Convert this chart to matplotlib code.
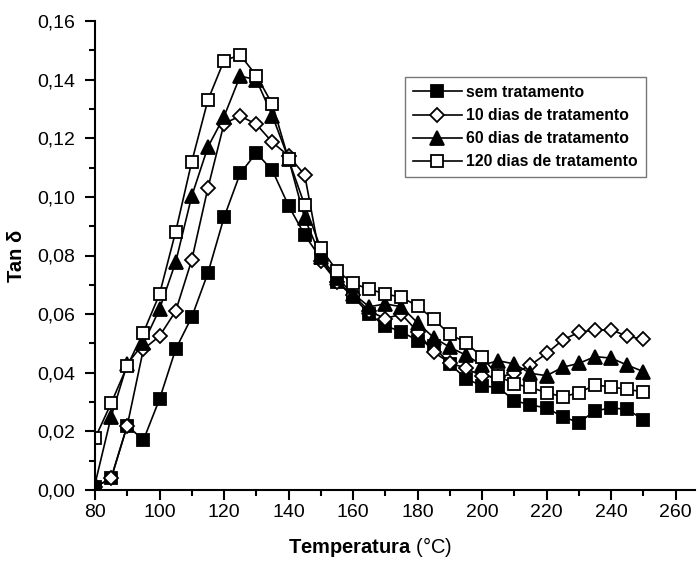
import matplotlib.pyplot as plt
from matplotlib.ticker import MultipleLocator, FuncFormatter

plt.rcParams["font.family"] = ["Liberation Sans", "DejaVu Sans"]
plt.rcParams["mathtext.fontset"] = "custom"
plt.rcParams["mathtext.bf"] = "Liberation Sans:bold"
plt.rcParams["mathtext.rm"] = "Liberation Sans"

temperatura = [80, 85, 90, 95, 100, 105, 110, 115, 120, 125,
               130, 135, 140, 145, 150, 155, 160, 165, 170, 175,
               180, 185, 190, 195, 200, 205, 210, 215, 220, 225,
               230, 235, 240, 245, 250]

sem_tratamento = [0.001, 0.004, 0.022, 0.017, 0.031, 0.048, 0.059, 0.074, 0.093, 0.108,
                  0.115, 0.109, 0.097, 0.087, 0.079, 0.071, 0.066, 0.060, 0.056, 0.054,
                  0.051, 0.049, 0.043, 0.038, 0.0355, 0.035, 0.0305, 0.029, 0.028, 0.025,
                  0.023, 0.027, 0.028, 0.0275, 0.024]

dias_10 = [0.001, 0.004, 0.022, 0.048, 0.0525, 0.061, 0.0785, 0.103, 0.125, 0.1276,
           0.1248, 0.1186, 0.114, 0.1075, 0.078, 0.071, 0.0665, 0.061, 0.0585, 0.060,
           0.054, 0.047, 0.0434, 0.0415, 0.0389, 0.0385, 0.0398, 0.0426, 0.0466, 0.0512,
           0.0538, 0.0546, 0.0546, 0.0525, 0.0514]

dias_60 = [0.002, 0.025, 0.043, 0.050, 0.0617, 0.0777, 0.1003, 0.117, 0.1274, 0.1412,
           0.140, 0.1276, 0.113, 0.0927, 0.0796, 0.0722, 0.067, 0.0625, 0.0635, 0.0625,
           0.057, 0.052, 0.0487, 0.046, 0.0426, 0.0441, 0.043, 0.0398, 0.039, 0.0419,
           0.0432, 0.0455, 0.045, 0.0426, 0.0404]

dias_120 = [0.0176, 0.0296, 0.0423, 0.0537, 0.0668, 0.0881, 0.112, 0.133, 0.1465, 0.1484,
            0.1414, 0.1316, 0.1128, 0.0972, 0.0824, 0.0748, 0.0705, 0.0685, 0.0669, 0.0657,
            0.0628, 0.0582, 0.0531, 0.0503, 0.0453, 0.0389, 0.0362, 0.035, 0.0332, 0.0318,
            0.0332, 0.0358, 0.0352, 0.0343, 0.0335]

series = [
    ("sem tratamento", sem_tratamento, "s", "black", 8),
    ("10 dias de tratamento", dias_10, "D", "white", 7.5),
    ("60 dias de tratamento", dias_60, "^", "black", 9.5),
    ("120 dias de tratamento", dias_120, "s", "white", 8),
]

fig = plt.figure(figsize=(6.99, 5.61), dpi=100)
ax = fig.add_axes([95 / 699, 71 / 561, 600 / 699, 469 / 561])

for label, values, marker, face, size in series:
    ax.plot(temperatura, values, color="black", linewidth=1.2,
            marker=marker, markersize=size, markerfacecolor=face,
            markeredgecolor="black", markeredgewidth=1.3, label=label)

ax.set_xlim(80, 266)
ax.set_ylim(0, 0.16)
ax.xaxis.set_major_locator(MultipleLocator(20))
ax.xaxis.set_minor_locator(MultipleLocator(10))
ax.yaxis.set_major_locator(MultipleLocator(0.02))
ax.yaxis.set_minor_locator(MultipleLocator(0.01))
ax.yaxis.set_major_formatter(FuncFormatter(lambda v, p: f"{v:.2f}".replace(".", ",")))

for side in ("top", "right"):
    ax.spines[side].set_visible(False)
for side in ("left", "bottom"):
    ax.spines[side].set_linewidth(1.5)

ax.tick_params(which="major", direction="out", length=7, width=1.5, labelsize=14, pad=3)
ax.tick_params(which="minor", direction="out", length=4, width=1.5)
ax.tick_params(axis="y", which="major", pad=7)

ax.set_ylabel("Tan δ", fontsize=14.5, fontweight="bold", labelpad=8)
ax.set_xlabel(r"$\mathbf{Temperatura}$ (°C)", fontsize=14.5)
ax.xaxis.set_label_coords(0.458, -0.097)

leg = ax.legend(loc="upper left", bbox_to_anchor=(405 / 699, 1 - 77 / 561),
                bbox_transform=fig.transFigure, frameon=True, borderaxespad=0,
                fancybox=False, edgecolor="#555555", handlelength=3.1,
                handletextpad=0.3, labelspacing=0.52, borderpad=0.5,
                prop={"weight": "bold", "size": 11.3})
leg.get_frame().set_linewidth(1.0)

fig.savefig("out.png", dpi=100)
